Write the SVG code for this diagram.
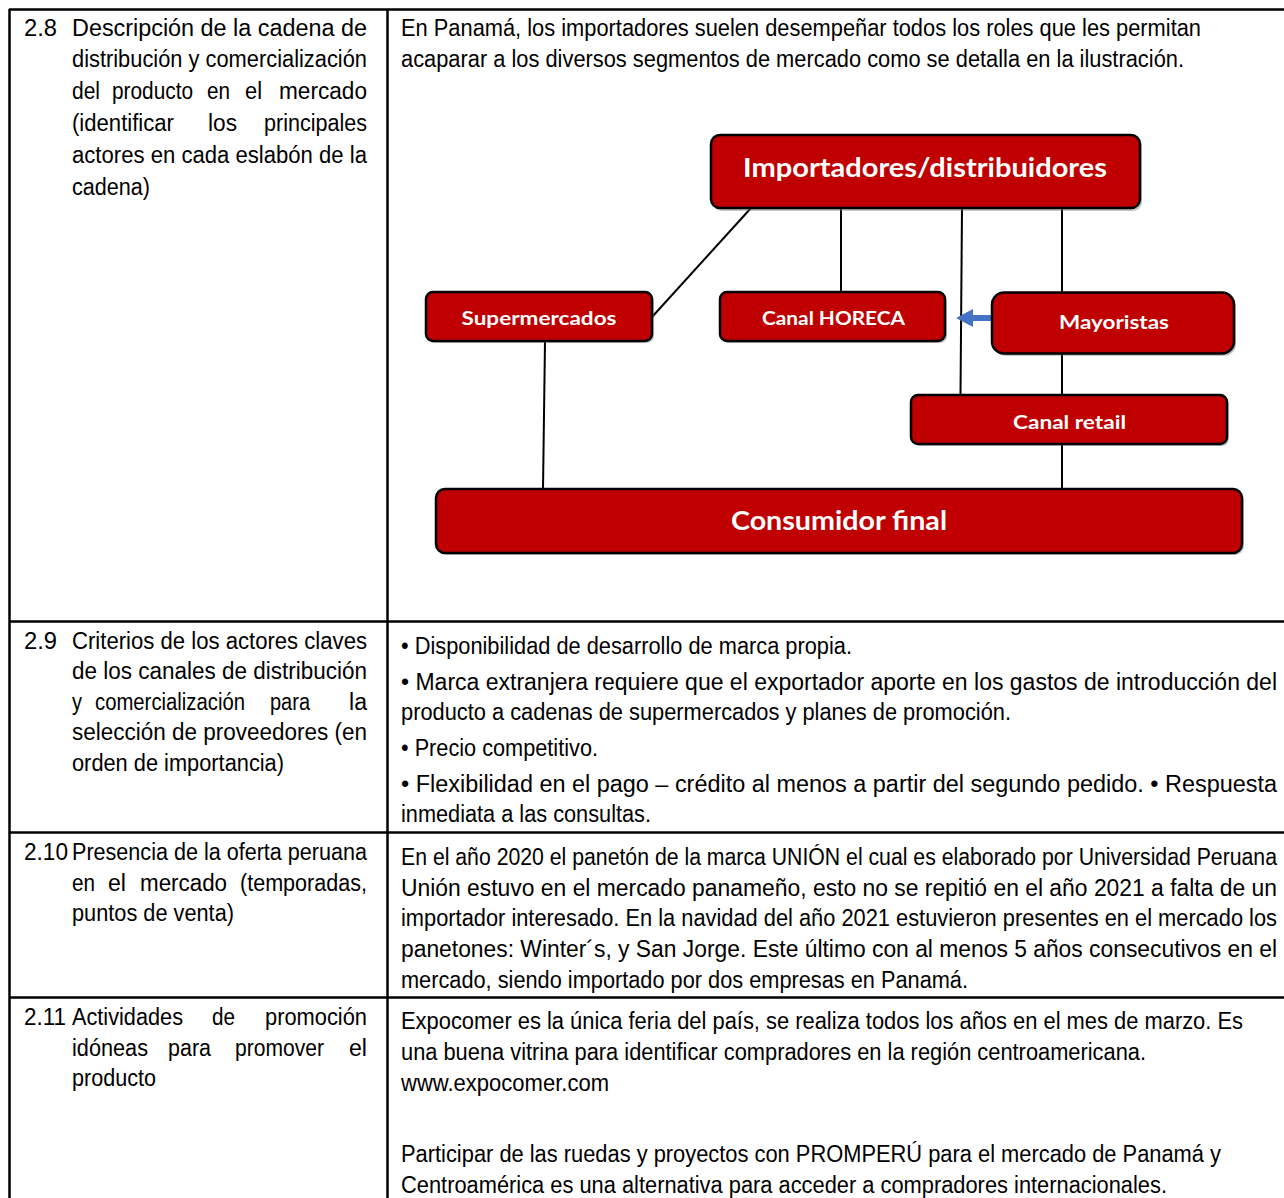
<svg xmlns="http://www.w3.org/2000/svg" width="1284" height="1198" viewBox="0 0 1284 1198">
<style>
.t{font-family:"Liberation Sans Narrow","Arial Narrow","Liberation Sans",Arial,sans-serif;font-size:23px;fill:#000}
.grid{stroke:#000;stroke-width:2.5;fill:none}
.box{fill:#C00000;stroke:#000;stroke-width:2.5}
.sh{fill:#7f7f7f;opacity:0.45}
.lbl{font-family:Lato,"Open Sans","Liberation Sans",sans-serif;font-weight:700;fill:#fff;text-anchor:middle}
.con{stroke:#000;stroke-width:2;fill:none}
</style>
<defs>
<marker id="ah" markerWidth="17" markerHeight="18" refX="0" refY="9" orient="auto" markerUnits="userSpaceOnUse">
<path d="M17,9 L0,0 L0,18 Z" fill="#4472C4"/>
</marker>
</defs>
<rect width="1284" height="1198" fill="#fff"/>

<g id="table">
<line class="grid" x1="9" y1="9.5" x2="1284" y2="9.5"/>
<line class="grid" x1="9.5" y1="9" x2="9.5" y2="1198"/>
<line class="grid" x1="387.5" y1="9" x2="387.5" y2="1198"/>
<line class="grid" x1="9" y1="621.5" x2="1284" y2="621.5"/>
<line class="grid" x1="9" y1="832.5" x2="1284" y2="832.5"/>
<line class="grid" x1="9" y1="997.5" x2="1284" y2="997.5"/>
</g>

<g id="left-2-8">
<text class="t" x="24" y="35.5" textLength="33" lengthAdjust="spacingAndGlyphs">2.8</text>
<text class="t" x="72" y="35.5" textLength="295" lengthAdjust="spacingAndGlyphs">Descripción de la cadena de</text>
<text class="t" x="72" y="67" textLength="295" lengthAdjust="spacingAndGlyphs">distribución y comercialización</text>
<text class="t" x="72" y="98.5" textLength="28" lengthAdjust="spacingAndGlyphs">del</text>
<text class="t" x="112" y="98.5" textLength="81" lengthAdjust="spacingAndGlyphs">producto</text>
<text class="t" x="207" y="98.5" textLength="23" lengthAdjust="spacingAndGlyphs">en</text>
<text class="t" x="245" y="98.5" textLength="17" lengthAdjust="spacingAndGlyphs">el</text>
<text class="t" x="279" y="98.5" textLength="88" lengthAdjust="spacingAndGlyphs">mercado</text>
<text class="t" x="72" y="130.5" textLength="102" lengthAdjust="spacingAndGlyphs">(identificar</text>
<text class="t" x="208" y="130.5" textLength="29" lengthAdjust="spacingAndGlyphs">los</text>
<text class="t" x="264" y="130.5" textLength="103" lengthAdjust="spacingAndGlyphs">principales</text>
<text class="t" x="72" y="162.5" textLength="295" lengthAdjust="spacingAndGlyphs">actores en cada eslabón de la</text>
<text class="t" x="72" y="194.5" textLength="78" lengthAdjust="spacingAndGlyphs">cadena)</text>
</g>

<g id="left-2-9">
<text class="t" x="24" y="648.5" textLength="33" lengthAdjust="spacingAndGlyphs">2.9</text>
<text class="t" x="72" y="648.5" textLength="295" lengthAdjust="spacingAndGlyphs">Criterios de los actores claves</text>
<text class="t" x="72" y="679" textLength="295" lengthAdjust="spacingAndGlyphs">de los canales de distribución</text>
<text class="t" x="72" y="709.5" textLength="10" lengthAdjust="spacingAndGlyphs">y</text>
<text class="t" x="95" y="709.5" textLength="150" lengthAdjust="spacingAndGlyphs">comercialización</text>
<text class="t" x="270" y="709.5" textLength="40" lengthAdjust="spacingAndGlyphs">para</text>
<text class="t" x="349" y="709.5" textLength="18" lengthAdjust="spacingAndGlyphs">la</text>
<text class="t" x="72" y="740" textLength="295" lengthAdjust="spacingAndGlyphs">selección de proveedores (en</text>
<text class="t" x="72" y="770.5" textLength="212" lengthAdjust="spacingAndGlyphs">orden de importancia)</text>
</g>

<g id="left-2-10">
<text class="t" x="24" y="859.5" textLength="44" lengthAdjust="spacingAndGlyphs">2.10</text>
<text class="t" x="72" y="859.5" textLength="295" lengthAdjust="spacingAndGlyphs">Presencia de la oferta peruana</text>
<text class="t" x="72" y="890.5" textLength="23" lengthAdjust="spacingAndGlyphs">en</text>
<text class="t" x="108" y="890.5" textLength="18" lengthAdjust="spacingAndGlyphs">el</text>
<text class="t" x="140" y="890.5" textLength="87" lengthAdjust="spacingAndGlyphs">mercado</text>
<text class="t" x="240" y="890.5" textLength="127" lengthAdjust="spacingAndGlyphs">(temporadas,</text>
<text class="t" x="72" y="920.5" textLength="162" lengthAdjust="spacingAndGlyphs">puntos de venta)</text>
</g>

<g id="left-2-11">
<text class="t" x="24" y="1024.5" textLength="42" lengthAdjust="spacingAndGlyphs">2.11</text>
<text class="t" x="72" y="1024.5" textLength="111" lengthAdjust="spacingAndGlyphs">Actividades</text>
<text class="t" x="212" y="1024.5" textLength="23" lengthAdjust="spacingAndGlyphs">de</text>
<text class="t" x="265" y="1024.5" textLength="102" lengthAdjust="spacingAndGlyphs">promoción</text>
<text class="t" x="72" y="1055.5" textLength="76" lengthAdjust="spacingAndGlyphs">idóneas</text>
<text class="t" x="168" y="1055.5" textLength="43" lengthAdjust="spacingAndGlyphs">para</text>
<text class="t" x="235" y="1055.5" textLength="89" lengthAdjust="spacingAndGlyphs">promover</text>
<text class="t" x="349" y="1055.5" textLength="18" lengthAdjust="spacingAndGlyphs">el</text>
<text class="t" x="72" y="1085.5" textLength="84" lengthAdjust="spacingAndGlyphs">producto</text>
</g>

<g id="right-2-8">
<text class="t" x="401" y="35.5" textLength="800" lengthAdjust="spacingAndGlyphs">En Panamá, los importadores suelen desempeñar todos los roles que les permitan</text>
<text class="t" x="401" y="66.5" textLength="783" lengthAdjust="spacingAndGlyphs">acaparar a los diversos segmentos de mercado como se detalla en la ilustración.</text>
</g>

<g id="connectors">
<line class="con" x1="751" y1="208" x2="652" y2="317"/>
<line class="con" x1="841" y1="208" x2="841" y2="292"/>
<line class="con" x1="962" y1="208" x2="960.5" y2="395"/>
<line class="con" x1="1062" y1="208" x2="1062" y2="292"/>
<line class="con" x1="1062" y1="354" x2="1062" y2="395"/>
<line class="con" x1="1062" y1="444" x2="1062" y2="489"/>
<line class="con" x1="545" y1="341" x2="543" y2="489"/>
<line x1="992" y1="318" x2="973" y2="318" stroke="#4472C4" stroke-width="6" marker-end="url(#ah)"/>
</g>

<g id="n-importadores">
<rect class="sh" x="713" y="138" width="429" height="73" rx="9"/>
<rect class="box" x="711" y="135" width="429" height="73" rx="9"/>
<text class="lbl" x="925" y="177" font-size="27" textLength="364" lengthAdjust="spacingAndGlyphs">Importadores/distribuidores</text>
</g>
<g id="n-supermercados">
<rect class="sh" x="428" y="294" width="226" height="49" rx="7"/>
<rect class="box" x="426" y="292" width="226" height="49" rx="7"/>
<text class="lbl" x="539" y="324.5" font-size="19" textLength="155" lengthAdjust="spacingAndGlyphs">Supermercados</text>
</g>
<g id="n-horeca">
<rect class="sh" x="722" y="294" width="225" height="49" rx="7"/>
<rect class="box" x="720" y="292" width="225" height="49" rx="7"/>
<text class="lbl" x="833.5" y="324.5" font-size="19" textLength="143" lengthAdjust="spacingAndGlyphs">Canal HORECA</text>
</g>
<g id="n-mayoristas">
<rect class="sh" x="994" y="295" width="242" height="61" rx="12"/>
<rect class="box" x="992" y="292.5" width="242" height="61" rx="12"/>
<text class="lbl" x="1114" y="329" font-size="19" textLength="110" lengthAdjust="spacingAndGlyphs">Mayoristas</text>
</g>
<g id="n-retail">
<rect class="sh" x="913" y="397" width="316" height="49" rx="7"/>
<rect class="box" x="911" y="395" width="316" height="49" rx="7"/>
<text class="lbl" x="1069.5" y="428.5" font-size="19" textLength="113" lengthAdjust="spacingAndGlyphs">Canal retail</text>
</g>
<g id="n-consumidor">
<rect class="sh" x="438" y="491" width="806" height="64" rx="9"/>
<rect class="box" x="436" y="489" width="806" height="64" rx="9"/>
<text class="lbl" x="839" y="529.5" font-size="26" textLength="216" lengthAdjust="spacingAndGlyphs">Consumidor final</text>
</g>

<g id="right-2-9">
<text class="t" x="401" y="653.5" textLength="451" lengthAdjust="spacingAndGlyphs">• Disponibilidad de desarrollo de marca propia.</text>
<text class="t" x="401" y="689.5" textLength="876" lengthAdjust="spacingAndGlyphs">• Marca extranjera requiere que el exportador aporte en los gastos de introducción del</text>
<text class="t" x="401" y="719.5" textLength="610" lengthAdjust="spacingAndGlyphs">producto a cadenas de supermercados y planes de promoción.</text>
<text class="t" x="401" y="755.5" textLength="197" lengthAdjust="spacingAndGlyphs">• Precio competitivo.</text>
<text class="t" x="401" y="791.5" textLength="876" lengthAdjust="spacingAndGlyphs">• Flexibilidad en el pago – crédito al menos a partir del segundo pedido. • Respuesta</text>
<text class="t" x="401" y="821.5" textLength="250" lengthAdjust="spacingAndGlyphs">inmediata a las consultas.</text>
</g>

<g id="right-2-10">
<text class="t" x="401" y="864.5" textLength="876" lengthAdjust="spacingAndGlyphs">En el año 2020 el panetón de la marca UNIÓN el cual es elaborado por Universidad Peruana</text>
<text class="t" x="401" y="895.5" textLength="876" lengthAdjust="spacingAndGlyphs">Unión estuvo en el mercado panameño, esto no se repitió en el año 2021 a falta de un</text>
<text class="t" x="401" y="925.5" textLength="876" lengthAdjust="spacingAndGlyphs">importador interesado. En la navidad del año 2021 estuvieron presentes en el mercado los</text>
<text class="t" x="401" y="956.5" textLength="876" lengthAdjust="spacingAndGlyphs">panetones: Winter´s, y San Jorge. Este último con al menos 5 años consecutivos en el</text>
<text class="t" x="401" y="987.5" textLength="567" lengthAdjust="spacingAndGlyphs">mercado, siendo importado por dos empresas en Panamá.</text>
</g>

<g id="right-2-11">
<text class="t" x="401" y="1028.5" textLength="842" lengthAdjust="spacingAndGlyphs">Expocomer es la única feria del país, se realiza todos los años en el mes de marzo. Es</text>
<text class="t" x="401" y="1059.5" textLength="745" lengthAdjust="spacingAndGlyphs">una buena vitrina para identificar compradores en la región centroamericana.</text>
<text class="t" x="401" y="1090.5" textLength="208" lengthAdjust="spacingAndGlyphs">www.expocomer.com</text>
<text class="t" x="401" y="1161.5" textLength="820" lengthAdjust="spacingAndGlyphs">Participar de las ruedas y proyectos con PROMPERÚ para el mercado de Panamá y</text>
<text class="t" x="401" y="1193" textLength="766" lengthAdjust="spacingAndGlyphs">Centroamérica es una alternativa para acceder a compradores internacionales.</text>
</g>
</svg>
